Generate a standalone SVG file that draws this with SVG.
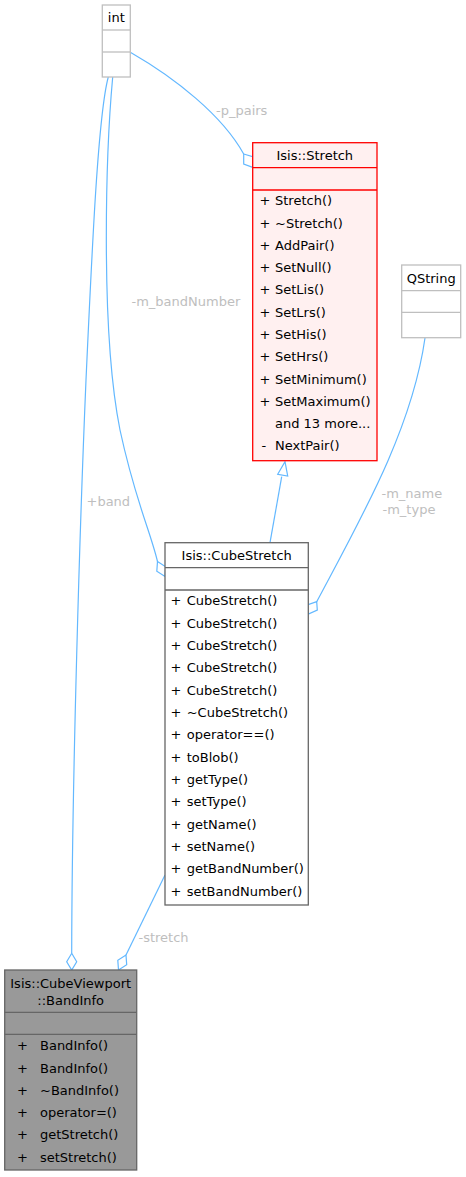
<svg xmlns="http://www.w3.org/2000/svg" width="466" height="1177" viewBox="0 0 466 1177">
<style>
text{font-family:"DejaVu Sans","Liberation Sans",sans-serif;font-size:13px;fill:#000}
.c{text-anchor:middle}
.lbl{fill:#bebebe;font-size:13px}
.e{fill:none;stroke:#63b8ff;stroke-width:1.2}
.h{fill:#fff;stroke:#63b8ff;stroke-width:1.2}
.g{fill:#fff;stroke:#bfbfbf;stroke-width:1.3}
.n{fill:#fff;stroke:#666;stroke-width:1.3}
.r{fill:#fff0f0;stroke:#f00;stroke-width:1.3}
.d{fill:#999;stroke:#666;stroke-width:1.3}
</style>
<rect width="466" height="1177" fill="#fff"/>
<g id="edges">
<path class="e" d="M130.3,52.3 C175,78 222,115 243.7,154"/>
<polygon class="h" points="243.7,154 252.7,156.7 252.7,167.3 243.7,164"/>
<text class="lbl" x="216" y="114.5">-p_pairs</text>
<path class="e" d="M108.3,77 C98,115 92,250 86,380 C80,520 72,780 71.7,953.3"/>
<polygon class="h" points="71.7,953.3 76.7,961.7 71.7,970 66.7,961.7"/>
<text class="lbl" x="86.5" y="505.5">+band</text>
<path class="e" d="M112.7,77 C106,150 100,330 120,430 C135,500 150,530 157.5,561.5"/>
<polygon class="h" points="157.5,561.5 165.7,566.8 165,576.5 156.8,571.2"/>
<text class="lbl" x="131.5" y="305.5">-m_bandNumber</text>
<path class="e" d="M281.7,476.7 L270,542.7"/>
<polygon class="h" points="285,461.7 287.7,476 277.7,474.3"/>
<path class="e" d="M425,338 C412,430 360,520 316.7,601.7"/>
<polygon class="h" points="316.7,601.7 317.3,610 308.3,614 307.3,605"/>
<text class="lbl" x="381.5" y="497.5">-m_name</text>
<text class="lbl" x="382.5" y="514">-m_type</text>
<path class="e" d="M165,875 L126,955"/>
<polygon class="h" points="126,955 126.7,964.7 118.5,970 117.8,960.3"/>
<text class="lbl" x="138.5" y="942">-stretch</text>
</g>
<g id="node_int">
<rect class="g" x="102.3" y="5" width="28" height="72"/>
<line class="g" x1="102.3" y1="30" x2="130.3" y2="30"/>
<line class="g" x1="102.3" y1="52" x2="130.3" y2="52"/>
<text class="c" x="116.3" y="22">int</text>
</g>
<g id="node_stretch">
<rect class="r" x="252.7" y="142.7" width="124.3" height="318"/>
<line class="r" x1="252.7" y1="167.7" x2="377" y2="167.7"/>
<line class="r" x1="252.7" y1="190" x2="377" y2="190"/>
<text class="c" x="314.8" y="160">Isis::Stretch</text>
<text x="259.5" y="205.3">+</text><text x="275" y="205.3">Stretch()</text>
<text x="259.5" y="227.6">+</text><text x="275" y="227.6">~Stretch()</text>
<text x="259.5" y="249.8">+</text><text x="275" y="249.8">AddPair()</text>
<text x="259.5" y="272.1">+</text><text x="275" y="272.1">SetNull()</text>
<text x="259.5" y="294.4">+</text><text x="275" y="294.4">SetLis()</text>
<text x="259.5" y="316.7">+</text><text x="275" y="316.7">SetLrs()</text>
<text x="259.5" y="338.9">+</text><text x="275" y="338.9">SetHis()</text>
<text x="259.5" y="361.2">+</text><text x="275" y="361.2">SetHrs()</text>
<text x="259.5" y="383.5">+</text><text x="275" y="383.5">SetMinimum()</text>
<text x="259.5" y="405.7">+</text><text x="275" y="405.7">SetMaximum()</text>
<text x="275" y="428">and 13 more...</text>
<text x="261.5" y="450.3">-</text><text x="275" y="450.3">NextPair()</text>
</g>
<g id="node_qstring">
<rect class="g" x="401.7" y="265" width="59" height="72.7"/>
<line class="g" x1="401.7" y1="290.7" x2="460.7" y2="290.7"/>
<line class="g" x1="401.7" y1="312.3" x2="460.7" y2="312.3"/>
<text class="c" x="431.2" y="282.5">QString</text>
</g>
<g id="node_cubestretch">
<rect class="n" x="165" y="542.7" width="143.3" height="362.3"/>
<line class="n" x1="165" y1="567.7" x2="308.3" y2="567.7"/>
<line class="n" x1="165" y1="590" x2="308.3" y2="590"/>
<text class="c" x="236.7" y="560">Isis::CubeStretch</text>
<text x="170.5" y="605.3">+</text><text x="186.7" y="605.3">CubeStretch()</text>
<text x="170.5" y="627.6">+</text><text x="186.7" y="627.6">CubeStretch()</text>
<text x="170.5" y="650">+</text><text x="186.7" y="650">CubeStretch()</text>
<text x="170.5" y="672.3">+</text><text x="186.7" y="672.3">CubeStretch()</text>
<text x="170.5" y="694.6">+</text><text x="186.7" y="694.6">CubeStretch()</text>
<text x="170.5" y="717">+</text><text x="186.7" y="717">~CubeStretch()</text>
<text x="170.5" y="739.3">+</text><text x="186.7" y="739.3">operator==()</text>
<text x="170.5" y="761.6">+</text><text x="186.7" y="761.6">toBlob()</text>
<text x="170.5" y="784">+</text><text x="186.7" y="784">getType()</text>
<text x="170.5" y="806.3">+</text><text x="186.7" y="806.3">setType()</text>
<text x="170.5" y="828.6">+</text><text x="186.7" y="828.6">getName()</text>
<text x="170.5" y="851">+</text><text x="186.7" y="851">setName()</text>
<text x="170.5" y="873.3">+</text><text x="186.7" y="873.3">getBandNumber()</text>
<text x="170.5" y="895.6">+</text><text x="186.7" y="895.6">setBandNumber()</text>
</g>
<g id="node_bandinfo">
<rect class="d" x="4.7" y="970" width="132" height="200"/>
<line class="d" x1="4.7" y1="1012.3" x2="136.7" y2="1012.3"/>
<line class="d" x1="4.7" y1="1034.3" x2="136.7" y2="1034.3"/>
<text class="c" x="70.7" y="988">Isis::CubeViewport</text>
<text class="c" x="70.7" y="1005">::BandInfo</text>
<text x="17" y="1050.3">+</text><text x="40" y="1050.3">BandInfo()</text>
<text x="17" y="1072.6">+</text><text x="40" y="1072.6">BandInfo()</text>
<text x="17" y="1094.8">+</text><text x="40" y="1094.8">~BandInfo()</text>
<text x="17" y="1117.1">+</text><text x="40" y="1117.1">operator=()</text>
<text x="17" y="1139.3">+</text><text x="40" y="1139.3">getStretch()</text>
<text x="17" y="1161.6">+</text><text x="40" y="1161.6">setStretch()</text>
</g>
</svg>
